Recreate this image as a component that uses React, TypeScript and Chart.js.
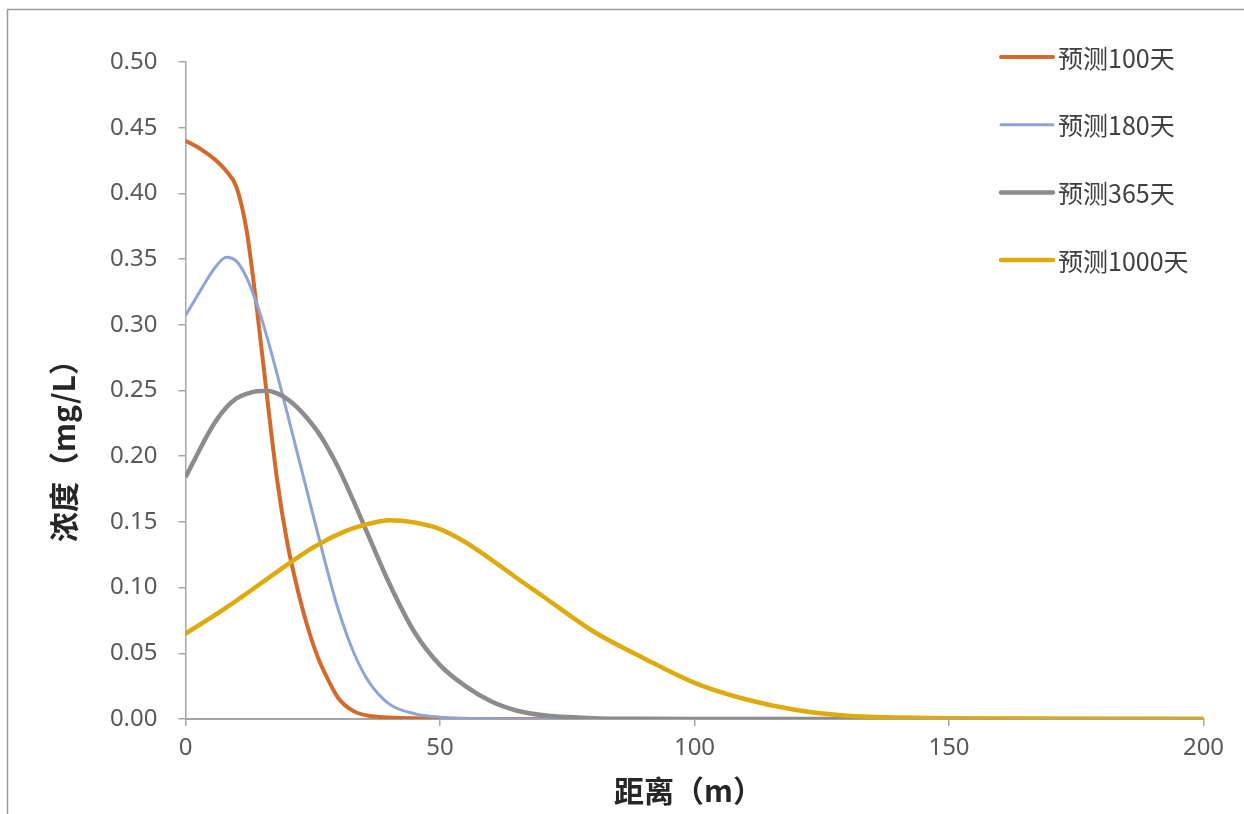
import React, { useEffect, useRef } from "react";
import { Chart, registerables } from "chart.js";

Chart.register(...registerables);

// Distance (m)
const distance = [0, 2, 4, 6, 8, 10, 12, 14, 16, 18, 20, 22, 24, 26, 28, 30, 33, 36, 40, 45, 50, 55, 60, 65, 70, 80, 90, 100, 110, 120, 130, 140, 150, 175, 200];

// Concentration (mg/L)
const day100 = [0.44, 0.436, 0.431, 0.425, 0.417, 0.405, 0.372, 0.313, 0.246, 0.182, 0.134, 0.099, 0.07, 0.047, 0.03, 0.016, 0.006, 0.0025, 0.0012, 0.0005, 0.0001, 0, 0, 0, 0, 0, 0, 0, 0, 0, 0, 0, 0, 0, 0];
const day180 = [0.307, 0.32, 0.333, 0.3445, 0.3515, 0.3485, 0.336, 0.316, 0.291, 0.2625, 0.2325, 0.202, 0.1715, 0.141, 0.111, 0.0835, 0.051, 0.0285, 0.0115, 0.004, 0.0014, 0.0005, 0.0001, 0, 0, 0, 0, 0, 0, 0, 0, 0, 0, 0, 0];
const day365 = [0.184, 0.199, 0.214, 0.227, 0.237, 0.244, 0.2475, 0.2495, 0.2498, 0.2478, 0.2435, 0.237, 0.2285, 0.2185, 0.206, 0.1915, 0.166, 0.139, 0.1035, 0.066, 0.041, 0.025, 0.0135, 0.0065, 0.003, 0.0006, 0.0001, 0, 0, 0, 0, 0, 0, 0, 0];
const day1000 = [0.065, 0.0698, 0.0747, 0.0797, 0.0848, 0.09, 0.0955, 0.101, 0.1065, 0.112, 0.1175, 0.1228, 0.128, 0.1325, 0.1368, 0.1405, 0.1452, 0.1485, 0.1512, 0.1495, 0.1445, 0.1345, 0.1215, 0.1075, 0.094, 0.067, 0.0463, 0.0275, 0.015, 0.0068, 0.0025, 0.0012, 0.0006, 0.0001, 0];

const seriesLabels = ["预测100天", "预测180天", "预测365天", "预测1000天"];
const seriesValues = [day100, day180, day365, day1000];
const seriesColors = ["#d4692a", "#8fa3d4", "#8c8c8c", "#deaa0c"];
const seriesWidths = [4, 3, 4.5, 4.5];

const xTitle = "距离（m）";
const yTitle = "浓度（mg/L）";

const NUM_FONT = '"Noto Sans", "Noto Sans CJK SC", sans-serif';
const CJK_FONT = '"Noto Sans CJK SC", "Noto Sans", sans-serif';

const decorPlugin = {
  id: "decor",
  beforeDraw(chart: any) {
    const ctx = chart.ctx;
    ctx.save();
    ctx.fillStyle = "#ffffff";
    ctx.fillRect(0, 0, chart.width, chart.height);
    ctx.strokeStyle = "#9a9a9a";
    ctx.lineWidth = 1.5;
    ctx.beginPath();
    ctx.moveTo(7.5, chart.height);
    ctx.lineTo(7.5, 9.5);
    ctx.lineTo(chart.width, 9.5);
    ctx.stroke();
    ctx.restore();
  },
  afterDraw(chart: any) {
    const ctx = chart.ctx;
    ctx.save();
    // axis titles
    ctx.fillStyle = "#262626";
    ctx.font = `bold 30px ${CJK_FONT}`;
    ctx.textAlign = "left";
    ctx.textBaseline = "middle";
    ctx.fillText(xTitle, 614, 791);
    ctx.translate(64, 542);
    ctx.rotate(-Math.PI / 2);
    ctx.fillText(yTitle, 0, 0);
    ctx.restore();

    // legend
    ctx.save();
    ctx.font = `25px ${CJK_FONT}`;
    ctx.textAlign = "left";
    ctx.textBaseline = "middle";
    seriesLabels.forEach((label, i) => {
      const y = 57 + i * 67.7;
      ctx.strokeStyle = seriesColors[i];
      ctx.lineWidth = seriesWidths[i];
      ctx.lineCap = "round";
      ctx.beginPath();
      ctx.moveTo(1001, y);
      ctx.lineTo(1053, y);
      ctx.stroke();
      ctx.fillStyle = "#404040";
      ctx.fillText(label, 1058, y + 1);
    });
    ctx.restore();
  },
};

export default function App() {
  const canvasRef = useRef<HTMLCanvasElement | null>(null);

  useEffect(() => {
    if (!canvasRef.current) return;
    const datasets = seriesLabels.map((label, i) => ({
      label,
      data: distance.map((d, j) => ({ x: d, y: seriesValues[i][j] })),
      borderColor: seriesColors[i],
      backgroundColor: seriesColors[i],
      borderWidth: seriesWidths[i],
      pointRadius: 0,
      cubicInterpolationMode: "monotone" as const,
      fill: false,
      order: seriesLabels.length - i,
    }));

    const chart = new Chart(canvasRef.current, {
      type: "line",
      data: { datasets },
      plugins: [decorPlugin],
      options: {
        responsive: false,
        animation: false,
        devicePixelRatio: 1,
        layout: { padding: { top: 62, right: 40.5, left: 0, bottom: 0 } },
        plugins: {
          legend: { display: false },
          tooltip: { enabled: false },
          title: { display: false },
        },
        scales: {
          x: {
            type: "linear",
            min: 0,
            max: 200,
            afterFit: (scale: any) => {
              scale.height = 95;
            },
            ticks: {
              stepSize: 50,
              padding: 8,
              maxRotation: 0,
              color: "#595959",
              font: { size: 24, family: NUM_FONT },
            },
            grid: {
              drawOnChartArea: false,
              drawTicks: true,
              tickLength: 7,
              color: "#a6a6a6",
              lineWidth: 1.5,
            },
            border: { display: true, color: "#a6a6a6", width: 2 },
          },
          y: {
            type: "linear",
            min: 0,
            max: 0.5,
            afterFit: (scale: any) => {
              scale.width = 185.5;
            },
            ticks: {
              stepSize: 0.05,
              padding: 21,
              color: "#595959",
              font: { size: 24, family: NUM_FONT },
              callback: (v: any) => Number(v).toFixed(2),
            },
            grid: {
              drawOnChartArea: false,
              drawTicks: true,
              tickLength: 7,
              color: "#a6a6a6",
              lineWidth: 1.5,
            },
            border: { display: true, color: "#a6a6a6", width: 1.5 },
          },
        },
      },
    });
    return () => chart.destroy();
  }, []);

  return (
    <div style={{ position: "absolute", left: 0, top: 0, width: 1244, height: 814, background: "#fff" }}>
      <canvas ref={canvasRef} width={1244} height={814} style={{ display: "block" }} />
    </div>
  );
}
